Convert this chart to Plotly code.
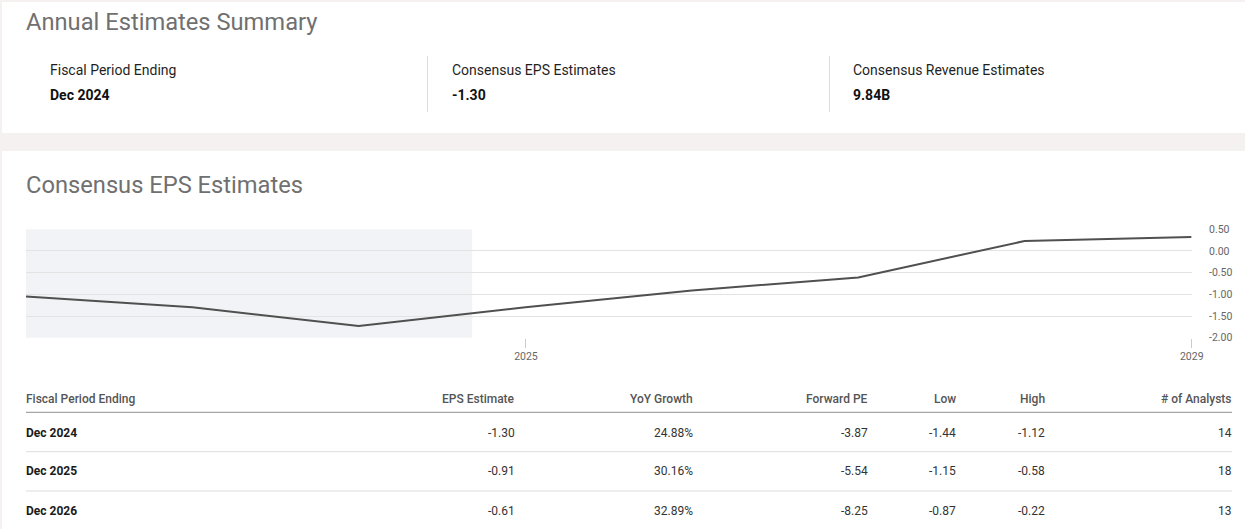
import plotly.graph_objects as go

W, H = 1245, 529

# ---------------- data ----------------
period_dates = ["2021-12-31", "2022-12-31", "2023-12-31", "2024-12-31",
                "2025-12-31", "2026-12-31", "2027-12-31", "2028-12-31"]
eps_values = [-1.05, -1.30, -1.73, -1.30, -0.91, -0.61, 0.23, 0.32]
history_end = "2024-09-05"

x_tick_dates = ["2025-01-01", "2029-01-01"]
x_tick_labels = ["2025", "2029"]
y_tick_values = [0.5, 0.0, -0.5, -1.0, -1.5, -2.0]
y_tick_labels = ["0.50", "0.00", "-0.50", "-1.00", "-1.50", "-2.00"]

summary_labels = ["Fiscal Period Ending", "Consensus EPS Estimates", "Consensus Revenue Estimates"]
summary_values = ["Dec 2024", "-1.30", "9.84B"]

table_columns = ["Fiscal Period Ending", "EPS Estimate", "YoY Growth", "Forward PE",
                 "Low", "High", "# of Analysts"]
table_periods = ["Dec 2024", "Dec 2025", "Dec 2026"]
table_eps = [-1.30, -0.91, -0.61]
table_yoy = [24.88, 30.16, 32.89]
table_fwd_pe = [-3.87, -5.54, -8.25]
table_low = [-1.44, -1.15, -0.87]
table_high = [-1.12, -0.58, -0.22]
table_analysts = [14, 18, 13]

# ---------------- helpers ----------------
FONT = "Roboto"


def px(x):
    return x / W


def py(y):
    return 1 - y / H


annotations = []
shapes = []


def text(x, y, s, size=12, color="#333333", weight=400, xanchor="left"):
    annotations.append(dict(
        x=px(x), y=py(y), xref="paper", yref="paper", text=s, showarrow=False,
        xanchor=xanchor, yanchor="middle", borderpad=0, borderwidth=0,
        font=dict(family=FONT, size=size, color=color, weight=weight)))


def hline(x0, x1, y, color, width=1):
    shapes.append(dict(type="line", xref="paper", yref="paper",
                       x0=px(x0), x1=px(x1), y0=py(y), y1=py(y),
                       line=dict(color=color, width=width), layer="below"))


def vline(x, y0, y1, color, width=1):
    shapes.append(dict(type="line", xref="paper", yref="paper",
                       x0=px(x), x1=px(x), y0=py(y0), y1=py(y1),
                       line=dict(color=color, width=width), layer="below"))


def rect(x0, y0, x1, y1, color):
    shapes.append(dict(type="rect", xref="paper", yref="paper",
                       x0=px(x0), x1=px(x1), y0=py(y1), y1=py(y0),
                       fillcolor=color, line=dict(width=0), layer="below"))


# cards
rect(2, 2, W, 133, "white")
rect(2, 151, W, H, "white")

# summary card
text(26, 21.5, "Annual Estimates Summary", size=23.7, color="#707070")
summary_x = [50, 452, 853.5]
for i, (lab, val) in enumerate(zip(summary_labels, summary_values)):
    text(summary_x[i], 70.3, lab, size=14, color="#1f1f1f")
    text(summary_x[i], 94.5, val, size=14, color="#111111", weight=700)
vline(427.5, 56, 112, "#dcdcdc")
vline(829.5, 56, 112, "#dcdcdc")

# chart card title
text(26, 185.3, "Consensus EPS Estimates", size=23.7, color="#707070")

# history shading
shapes.append(dict(type="rect", xref="x", yref="y domain",
                   x0=period_dates[0], x1=history_end, y0=0, y1=1,
                   fillcolor="#f2f3f6", line=dict(width=0), layer="below"))

# table
col_right = [None, 514.5, 692.5, 868, 956, 1045, 1231.5]
head_y = 399.3
text(26, head_y, table_columns[0], size=12, color="#555555", weight=500)
for j in range(1, len(table_columns)):
    text(col_right[j], head_y, table_columns[j], size=12, color="#555555",
         weight=500, xanchor="right")
hline(26, 1232, 412.3, "#8f8f8f", 1)

row_y = [432.7, 471.4, 510.6]
for i in range(len(table_periods)):
    cells = [f"{table_eps[i]:.2f}", f"{table_yoy[i]:.2f}%", f"{table_fwd_pe[i]:.2f}",
             f"{table_low[i]:.2f}", f"{table_high[i]:.2f}", f"{table_analysts[i]}"]
    text(26, row_y[i], table_periods[i], size=12, color="#1a1a1a", weight=700)
    for j, c in enumerate(cells, start=1):
        text(col_right[j], row_y[i], c, size=12, color="#333333", xanchor="right")
hline(26, 1232, 451.7, "#dddddd", 1)
hline(26, 1232, 491.0, "#dddddd", 1)

# ---------------- figure ----------------
fig = go.Figure()
fig.add_trace(go.Scatter(
    x=period_dates, y=eps_values, mode="lines",
    line=dict(color="#505050", width=2), hoverinfo="skip", showlegend=False))

fig.update_layout(
    width=W, height=H,
    margin=dict(l=0, r=0, t=0, b=0, pad=0, autoexpand=False),
    paper_bgcolor="#f5f1f0",
    plot_bgcolor="rgba(0,0,0,0)",
    font=dict(family=FONT),
    shapes=shapes,
    annotations=annotations,
    showlegend=False,
    xaxis=dict(
        type="date",
        automargin=False,
        domain=[px(26), px(1192)],
        range=["2021-12-31", "2029-01-01 12:00"],
        tickvals=x_tick_dates, ticktext=x_tick_labels,
        ticks="outside", ticklen=9, tickcolor="#cccccc", tickwidth=1,
        showgrid=False, zeroline=False, showline=False,
        tickfont=dict(family=FONT, size=10.5, color="#666666"),
        fixedrange=True,
    ),
    yaxis=dict(
        side="right",
        automargin=False,
        domain=[py(337.7), py(229.3)],
        range=[-2.0, 0.5],
        tickvals=y_tick_values, ticktext=y_tick_labels,
        showgrid=True, gridcolor="#e3e3e3", gridwidth=1,
        zeroline=False, showline=False, ticks="",
        ticklabelstandoff=16,
        tickfont=dict(family=FONT, size=10.5, color="#666666"),
        fixedrange=True,
    ),
)

fig.write_html("out.html", config={"displayModeBar": False})
